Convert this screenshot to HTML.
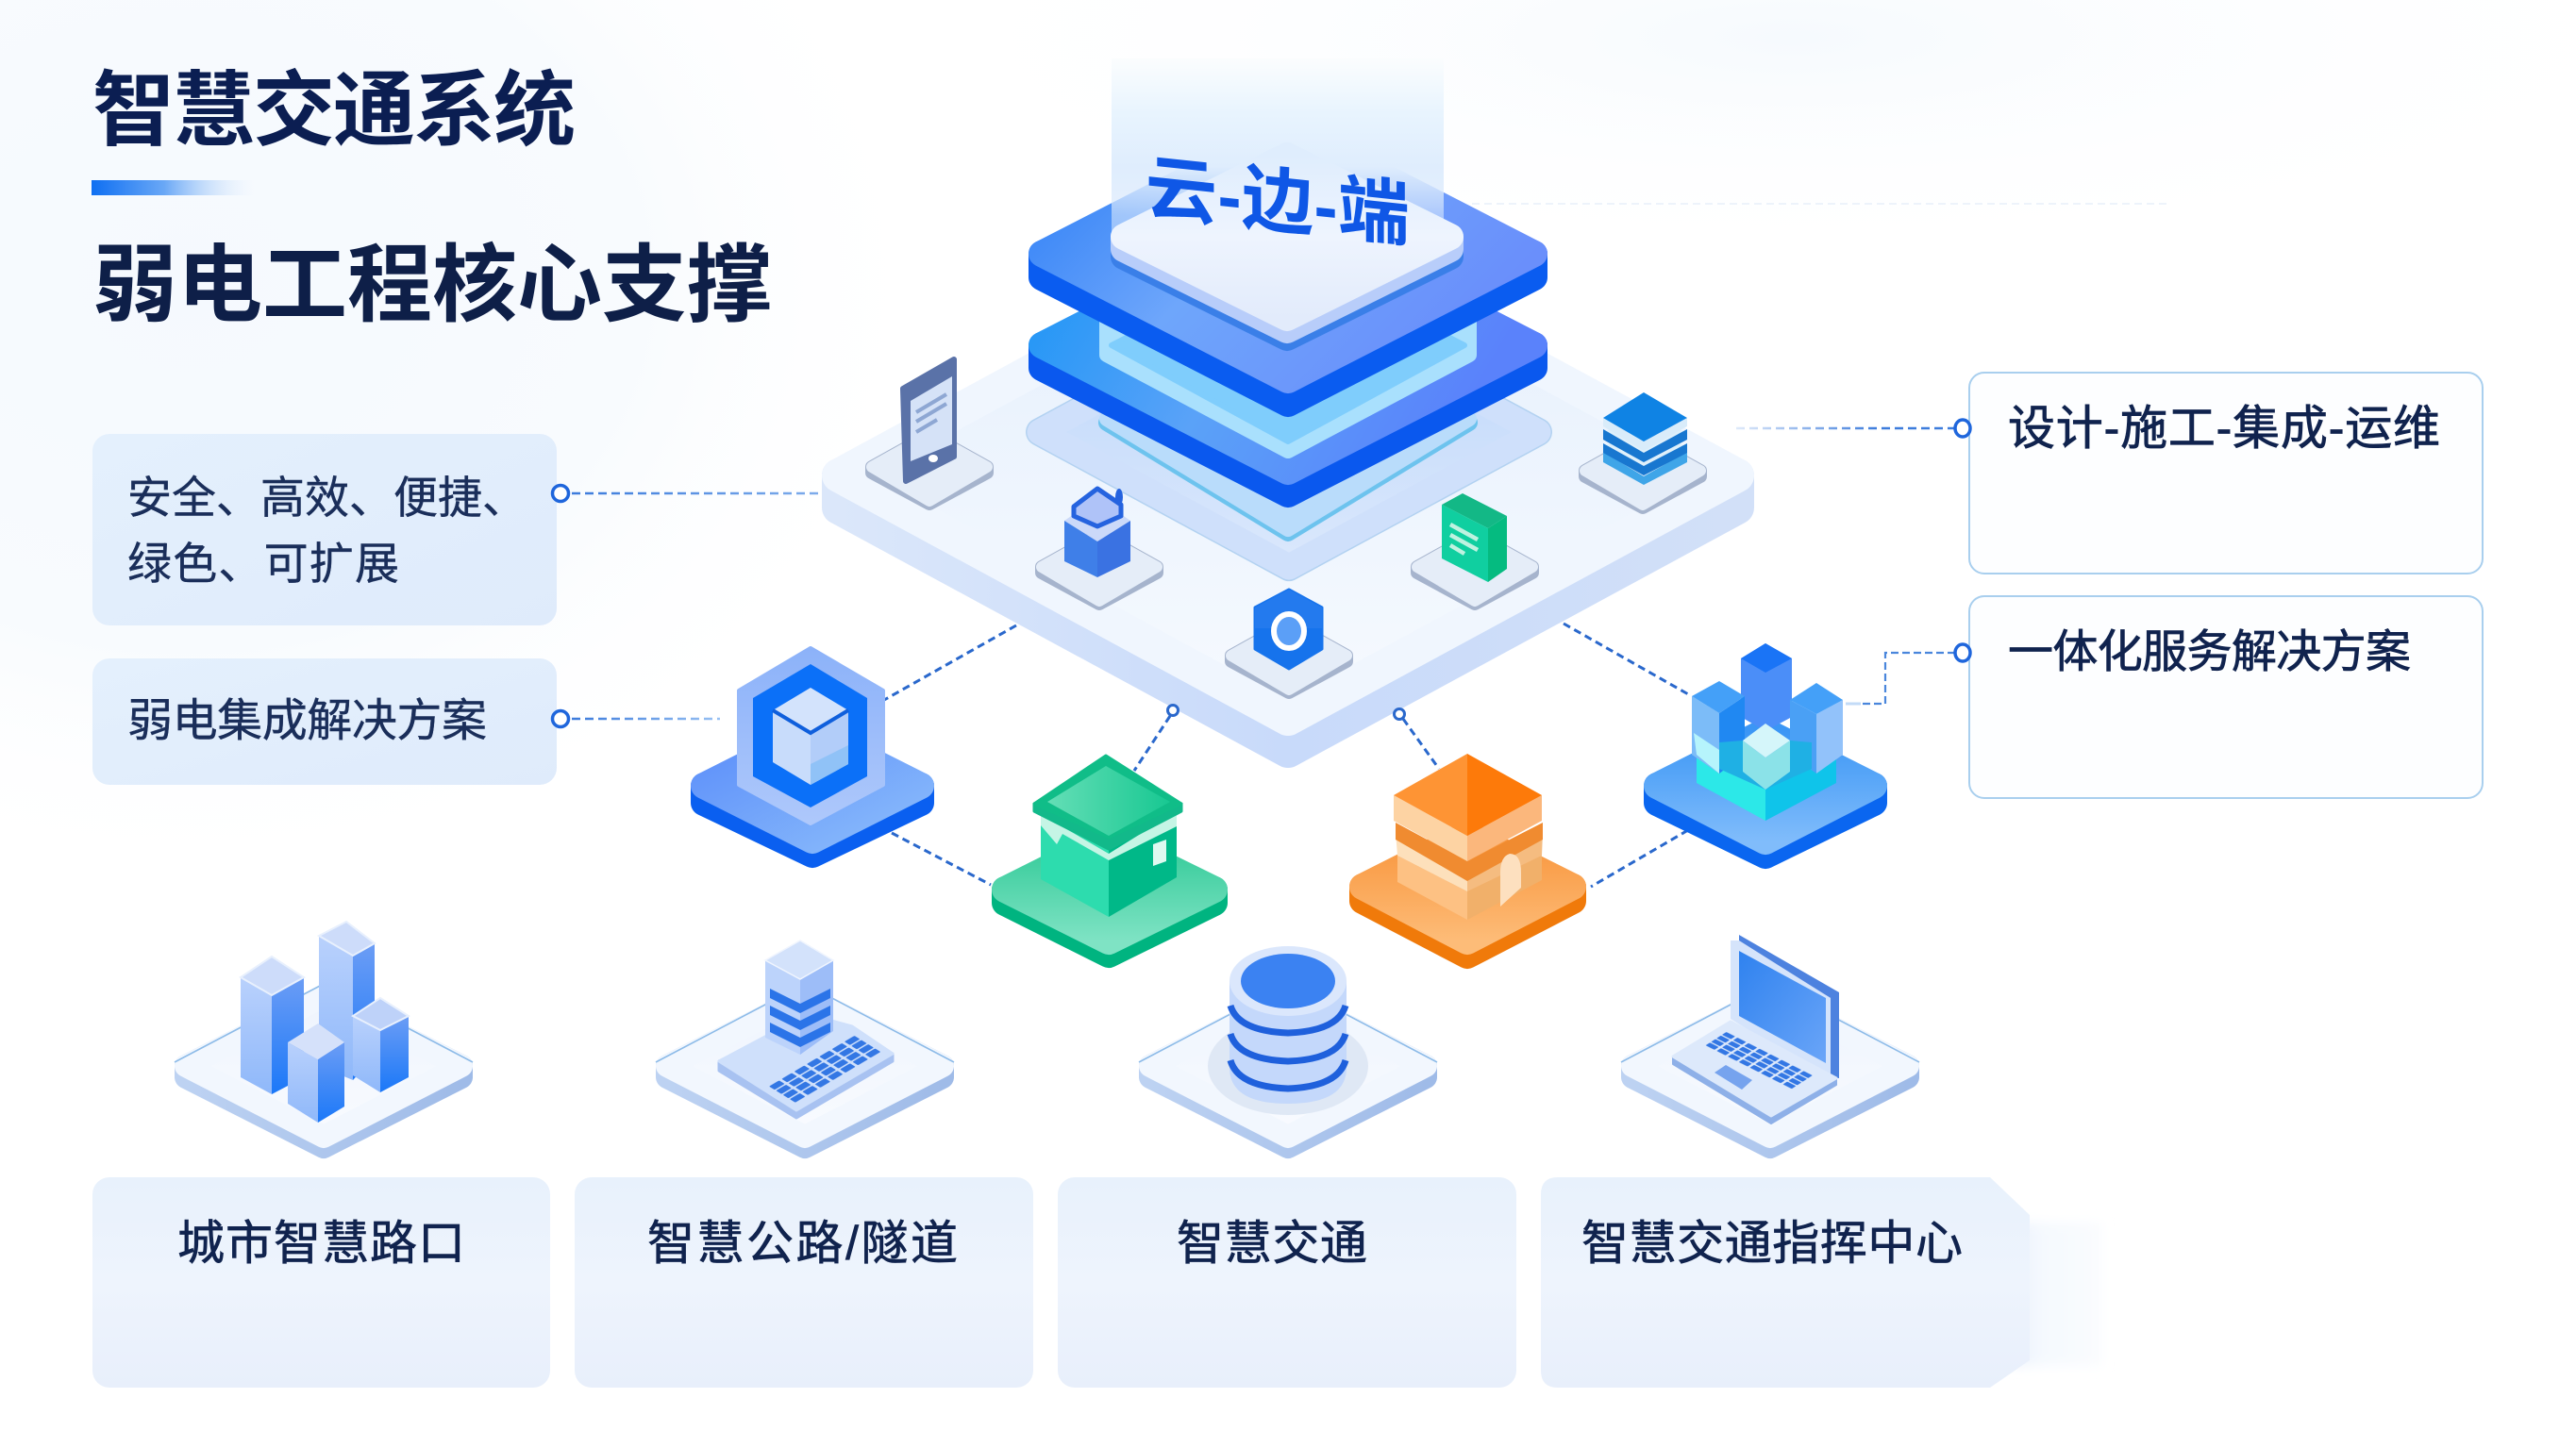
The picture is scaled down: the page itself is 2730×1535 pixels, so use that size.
<!DOCTYPE html>
<html lang="zh">
<head>
<meta charset="utf-8">
<title>智慧交通系统</title>
<style>
html,body{margin:0;padding:0;background:#fff;width:2730px;height:1535px;overflow:hidden}
svg{display:block}
text{font-family:"Liberation Sans","Noto Sans CJK SC",sans-serif}
</style>
</head>
<body>
<svg xmlns="http://www.w3.org/2000/svg" width="2730" height="1535" viewBox="0 0 2730 1535">
<defs>
<radialGradient id="bg1" cx="0.5" cy="0.5" r="0.5"><stop offset="0" stop-color="#f5f9fe"/><stop offset="0.6" stop-color="#f8fbfe"/><stop offset="1" stop-color="#fff" stop-opacity="0"/></radialGradient>
<radialGradient id="bg2" cx="0.5" cy="0.5" r="0.5"><stop offset="0" stop-color="#f6fafe"/><stop offset="1" stop-color="#fff" stop-opacity="0"/></radialGradient>
<filter id="soft" x="-20%" y="-20%" width="140%" height="140%"><feGaussianBlur stdDeviation="6"/></filter>
<linearGradient id="bar" x1="0" x2="1" y1="0" y2="0"><stop offset="0" stop-color="#0f6ff2"/><stop offset="0.45" stop-color="#6aa8f6"/><stop offset="1" stop-color="#dcebfc" stop-opacity="0"/></linearGradient>
<linearGradient id="card" x1="0" x2="1" y1="0" y2="1"><stop offset="0" stop-color="#e4f0fd"/><stop offset="1" stop-color="#dfebfb"/></linearGradient>
<linearGradient id="card2" x1="0" x2="0" y1="0" y2="1"><stop offset="0" stop-color="#e8f1fc"/><stop offset="0.5" stop-color="#eef4fd"/><stop offset="1" stop-color="#e8effb"/></linearGradient>
<linearGradient id="fade" x1="0" x2="1" y1="0" y2="0"><stop offset="0" stop-color="#eaf1fc"/><stop offset="0.35" stop-color="#f5f9fe"/><stop offset="1" stop-color="#fafcfe"/></linearGradient>
<linearGradient id="main" x1="0" x2="0" y1="0" y2="1"><stop offset="0" stop-color="#e5effc"/><stop offset="1" stop-color="#f6faff"/></linearGradient>
<linearGradient id="mainS" x1="0" x2="1" y1="0" y2="0"><stop offset="0" stop-color="#dbe7fa"/><stop offset="0.5" stop-color="#c8dafa"/><stop offset="1" stop-color="#d2e0f8"/></linearGradient>
<linearGradient id="glass" x1="0" x2="0" y1="0" y2="1"><stop offset="0" stop-color="#bcd6fa"/><stop offset="1" stop-color="#dbe8fc"/></linearGradient>
<linearGradient id="p1" x1="0" x2="1" y1="0" y2="0.5"><stop offset="0" stop-color="#2a7df6"/><stop offset="0.5" stop-color="#6ea6fb"/><stop offset="1" stop-color="#6a8ffb"/></linearGradient>
<linearGradient id="p2" x1="0" x2="1" y1="0" y2="0.3"><stop offset="0" stop-color="#1a95f6"/><stop offset="0.5" stop-color="#5aa2f8"/><stop offset="1" stop-color="#5a82fb"/></linearGradient>
<linearGradient id="beam" gradientUnits="userSpaceOnUse" x1="0" x2="0" y1="62" y2="270">
  <stop offset="0" stop-color="#fbfdfe"/><stop offset="0.28" stop-color="#e8f4fe"/><stop offset="0.55" stop-color="#dfedfd"/><stop offset="0.8" stop-color="#d8e8fc" stop-opacity="0.6"/><stop offset="1" stop-color="#d4e6fc" stop-opacity="0.5"/>
</linearGradient>
<linearGradient id="inner" x1="0" x2="0" y1="0" y2="1"><stop offset="0" stop-color="#dfedfd"/><stop offset="0.5" stop-color="#eef4fe"/><stop offset="1" stop-color="#e2ebfb"/></linearGradient>
<linearGradient id="pB" x1="0" x2="1" y1="0" y2="1"><stop offset="0" stop-color="#5a8dfa"/><stop offset="1" stop-color="#8bbcfb"/></linearGradient>
<linearGradient id="hexG" x1="0" x2="0" y1="0" y2="1"><stop offset="0" stop-color="#8cb2f9"/><stop offset="1" stop-color="#aec8fb"/></linearGradient>
<linearGradient id="pG" x1="0" x2="0" y1="0" y2="1"><stop offset="0" stop-color="#2fc996"/><stop offset="1" stop-color="#7fe3c4"/></linearGradient>
<linearGradient id="pO" x1="0" x2="0" y1="0" y2="1"><stop offset="0" stop-color="#f8943a"/><stop offset="1" stop-color="#fdbc78"/></linearGradient>
<linearGradient id="pC" x1="0" x2="0" y1="0" y2="1"><stop offset="0" stop-color="#3b96f5"/><stop offset="1" stop-color="#80bcfb"/></linearGradient>
<linearGradient id="roofG" x1="0" x2="1" y1="0" y2="0"><stop offset="0" stop-color="#64deb6"/><stop offset="1" stop-color="#18c892"/></linearGradient>
<linearGradient id="padT" x1="0" x2="0" y1="0" y2="1"><stop offset="0" stop-color="#eef4fd"/><stop offset="1" stop-color="#f9fbff"/></linearGradient>
<linearGradient id="padS" x1="0" x2="1" y1="0" y2="0"><stop offset="0" stop-color="#bdd2f2"/><stop offset="1" stop-color="#9fbbe8"/></linearGradient>
<linearGradient id="bL" x1="0" x2="0" y1="0" y2="1"><stop offset="0" stop-color="#b9d1fc"/><stop offset="1" stop-color="#8fb8fa"/></linearGradient>
<linearGradient id="bR" x1="0" x2="0" y1="0" y2="1"><stop offset="0" stop-color="#6c9df5"/><stop offset="1" stop-color="#1b78f8"/></linearGradient>
<linearGradient id="screen" x1="0" x2="1" y1="0" y2="1"><stop offset="0" stop-color="#2f82ef"/><stop offset="1" stop-color="#6aa5f8"/></linearGradient>
<linearGradient id="dashR" gradientUnits="userSpaceOnUse" x1="1840" x2="1990" y1="0" y2="0"><stop offset="0" stop-color="#dfeafa"/><stop offset="1" stop-color="#3d7cdc"/></linearGradient>
<linearGradient id="dashL" gradientUnits="userSpaceOnUse" x1="610" x2="770" y1="0" y2="0"><stop offset="0" stop-color="#3d7cdc"/><stop offset="1" stop-color="#9cc4f4"/></linearGradient>
<linearGradient id="dashL1" gradientUnits="userSpaceOnUse" x1="610" x2="870" y1="0" y2="0"><stop offset="0" stop-color="#3d7cdc"/><stop offset="1" stop-color="#7eaceb"/></linearGradient>
<pattern id="keys" width="10" height="10" patternUnits="userSpaceOnUse"><rect x="1" y="1" width="8" height="8" rx="1" fill="#3377e4"/></pattern>

<g id="miniPad">
  <polygon points="-61,6 0,39 61,6 61,0 0,-34 -61,0" fill="#a6b4cd" stroke="#a6b4cd" stroke-width="14" stroke-linejoin="round"/>
  <polygon points="-61,0 0,-34 61,0 0,36" fill="#e5edf8" stroke="#e5edf8" stroke-width="12" stroke-linejoin="round"/>
</g>
<g id="lowPad">
  <polygon points="-146,12 0,86 146,12 146,0 0,-74 -146,0" fill="url(#padS)" stroke="url(#padS)" stroke-width="24" stroke-linejoin="round"/>
  <polygon points="-146,0 0,-74 146,0 0,75" fill="url(#padT)" stroke="#f2f7fe" stroke-width="24" stroke-linejoin="round"/>
  <path d="M-158,-4 L-2,-86 M2,-86 L158,-4" stroke="#8dbbe8" stroke-width="1.6" fill="none"/>
</g>
</defs>

<!-- background -->
<rect width="2730" height="1535" fill="#fff"/>
<ellipse cx="200" cy="300" rx="800" ry="640" fill="url(#bg1)"/>
<ellipse cx="1900" cy="40" rx="1000" ry="240" fill="url(#bg2)"/>

<!-- title -->
<text x="98" y="147" font-size="87" font-weight="700" fill="#0b1e52" textLength="512" lengthAdjust="spacing">智慧交通系统</text>
<rect x="97" y="191" width="172" height="16" fill="url(#bar)"/>
<text x="98" y="333" font-size="90" font-weight="700" fill="#0e1f48" textLength="720" lengthAdjust="spacing">弱电工程核心支撑</text>

<!-- left cards -->
<rect x="98" y="460" width="492" height="203" rx="18" fill="url(#card)"/>
<text x="135" y="544" font-size="47" fill="#1a2e5a" stroke="#1a2e5a" stroke-width=".4" textLength="423" lengthAdjust="spacing">安全、高效、便捷、</text>
<text x="135" y="614" font-size="47" fill="#1a2e5a" stroke="#1a2e5a" stroke-width=".4" textLength="288" lengthAdjust="spacing">绿色、可扩展</text>
<rect x="98" y="698" width="492" height="134" rx="18" fill="url(#card)"/>
<text x="135" y="780" font-size="48" fill="#1a2e5a" stroke="#1a2e5a" stroke-width=".4" textLength="381" lengthAdjust="spacing">弱电集成解决方案</text>
<path d="M606,523 H870" stroke="url(#dashL1)" stroke-width="2.5" stroke-dasharray="9 5" fill="none"/>
<path d="M606,762 H763" stroke="url(#dashL)" stroke-width="2.5" stroke-dasharray="9 5" fill="none"/>
<circle cx="594" cy="523" r="8.5" fill="#fff" stroke="#1f66dc" stroke-width="3.5"/>
<circle cx="594" cy="762" r="8.5" fill="#fff" stroke="#1f66dc" stroke-width="3.5"/>

<!-- right cards -->
<rect x="2087" y="395" width="544" height="213" rx="16" fill="#fdfeff" stroke="#a9cfee" stroke-width="2"/>
<text x="2128" y="471" font-size="50" fill="#10234e" stroke="#10234e" stroke-width=".8" textLength="458" lengthAdjust="spacing">设计-施工-集成-运维</text>
<rect x="2087" y="632" width="544" height="214" rx="16" fill="#fdfeff" stroke="#a9cfee" stroke-width="2"/>
<text x="2128" y="707" font-size="48" fill="#10234e" stroke="#10234e" stroke-width=".8" textLength="427" lengthAdjust="spacing">一体化服务解决方案</text>
<path d="M1840,454 H2072" stroke="url(#dashR)" stroke-width="2.5" stroke-dasharray="9 5" fill="none"/>
<path d="M2072,692 H1998 V746 H1970" stroke="#4a86dc" stroke-width="2.2" stroke-dasharray="8 4" fill="none"/>
<path d="M1956,746 H1972" stroke="#c3dbf7" stroke-width="3" fill="none"/>
<ellipse cx="2080" cy="454" rx="8" ry="9" fill="#fff" stroke="#1f66dc" stroke-width="3.5"/>
<ellipse cx="2080" cy="692" rx="8" ry="9" fill="#fff" stroke="#1f66dc" stroke-width="3.5"/>
<path d="M1560,216 H2300" stroke="#edf3fb" stroke-width="2" stroke-dasharray="8 5" fill="none"/>

<!-- main platform -->
<polygon points="889,504 889,538 1365,796 1841,538 1841,504 1365,762" fill="url(#mainS)" stroke="url(#mainS)" stroke-width="36" stroke-linejoin="round"/>
<polygon points="889,504 1365,246 1841,504 1365,762" fill="url(#main)" stroke="#f0f6fe" stroke-width="36" stroke-linejoin="round"/>

<!-- glass layer -->
<polygon points="1102,458 1366,315 1630,458 1366,601" fill="#b3d2f1" stroke="#b3d2f1" stroke-width="30" stroke-linejoin="round"/>
<polygon points="1102,458 1366,315 1630,458 1366,601" fill="url(#glass)" stroke="#cfe0fb" stroke-width="27" stroke-linejoin="round"/>
<polygon points="1173,448 1365,331 1557,448 1365,565" fill="#6dc3ee" stroke="#6dc3ee" stroke-width="18" stroke-linejoin="round"/>
<polygon points="1173,444 1365,327 1557,444 1365,561" fill="#b9dcfb" stroke="#b9dcfb" stroke-width="16" stroke-linejoin="round"/>

<!-- plate 2 -->
<polygon points="1104,366 1104,390 1365,524 1626,390 1626,366 1365,500" fill="#0a58ee" stroke="#0a58ee" stroke-width="28" stroke-linejoin="round"/>
<polygon points="1104,366 1365,232 1626,366 1365,500" fill="url(#p2)" stroke="url(#p2)" stroke-width="28" stroke-linejoin="round"/>
<!-- mid prism -->
<polygon points="1173,320 1557,320 1557,376 1365,478 1173,376" fill="#a9e0fd" stroke="#a9e0fd" stroke-width="16" stroke-linejoin="round"/>
<polygon points="1178,366 1365,270 1552,366 1365,468" fill="#7fcdfc" stroke="#7fcdfc" stroke-width="6" stroke-linejoin="round"/>

<!-- plate 1 -->
<polygon points="1104,269 1104,294 1365,428 1626,294 1626,269 1365,403" fill="#0a5cf0" stroke="#0a5cf0" stroke-width="28" stroke-linejoin="round"/>
<polygon points="1104,269 1365,135 1626,269 1365,403" fill="url(#p1)" stroke="url(#p1)" stroke-width="28" stroke-linejoin="round"/>

<!-- beam -->
<rect x="1178" y="62" width="352" height="203" fill="url(#beam)"/>

<!-- inner plate -->
<polygon points="1191,251 1191,272 1364,358 1537,272 1537,251 1364,337" fill="#3a7fe8" stroke="#3a7fe8" stroke-width="28" stroke-linejoin="round"/>
<polygon points="1191,251 1191,264 1364,350 1537,264 1537,251 1364,337" fill="#b8cdfa" stroke="#b8cdfa" stroke-width="28" stroke-linejoin="round"/>
<polygon points="1191,251 1364,165 1537,251 1364,337" fill="url(#inner)" stroke="url(#inner)" stroke-width="28" stroke-linejoin="round"/>

<!-- cloud-edge text -->
<g transform="translate(1214,225) skewY(6)">
<text x="0" y="0" font-size="76" font-weight="700" fill="#0f57e6" textLength="280" lengthAdjust="spacing">云-边-端</text>
</g>

<!-- mini pads -->
<use href="#miniPad" x="985" y="495"/>
<use href="#miniPad" x="1165" y="601"/>
<use href="#miniPad" x="1563" y="601"/>
<use href="#miniPad" x="1366" y="695"/>
<use href="#miniPad" x="1741" y="499"/>

<!-- phone -->
<polygon points="957,412 1011,381 1011,484 960,510" fill="#5a72a8" stroke="#5a72a8" stroke-width="6" stroke-linejoin="round"/>
<polygon points="965,425 1009,399 1009,471 965,489" fill="#d5e2f7"/>
<path d="M971,437 L1003,418 M971,447 L1003,428 M971,458 L993,445" stroke="#8ea7d3" stroke-width="4"/>
<ellipse cx="989" cy="486" rx="5" ry="4" fill="#fff"/>

<!-- blue box -->
<polygon points="1128,552 1163,528 1198,552 1163,574" fill="#cbd9f9"/>
<polygon points="1128,552 1163,574 1163,612 1128,595" fill="#3f7fe8"/>
<polygon points="1198,552 1163,574 1163,612 1198,595" fill="#3a72e2"/>
<polygon points="1163,518 1188,535 1188,547 1163,558 1138,547 1138,537" fill="#afc3f8" stroke="#2563df" stroke-width="5" stroke-linejoin="round"/>
<ellipse cx="1186" cy="527" rx="4" ry="9" fill="#2563df"/>

<!-- green book -->
<polygon points="1550,523 1528,535 1577,560 1597,547" fill="#13b886"/>
<polygon points="1528,535 1577,560 1577,617 1528,592" fill="#10cfa0"/>
<polygon points="1597,547 1577,560 1577,617 1597,603" fill="#05bb80"/>
<path d="M1537,556 L1566,572 M1537,567 L1566,583 M1537,578 L1552,587" stroke="#bff2e0" stroke-width="4.5"/>

<!-- hex shield -->
<polygon points="1366,625 1401,644 1401,688 1366,709 1330,688 1330,644" fill="#1673ec" stroke="#1673ec" stroke-width="3" stroke-linejoin="round"/>
<polygon points="1366,625 1401,644 1401,666 1330,666 1330,644" fill="#2a7ef0" opacity=".7"/>
<ellipse cx="1366" cy="669" rx="16" ry="18" fill="#5b9ff7" stroke="#fff" stroke-width="6"/>

<!-- stack -->
<polygon points="1699,479 1742,505 1788,479 1788,490 1742,514 1699,490" fill="#3fa5e8"/>
<polygon points="1699,474 1742,498 1788,474 1742,450" fill="#dff0fb"/>
<polygon points="1699,470 1742,494 1788,470 1788,480 1742,504 1699,480" fill="#1877d0"/>
<polygon points="1699,459 1742,483 1788,459 1742,436" fill="#dff0fb"/>
<polygon points="1699,455 1742,480 1788,455 1788,466 1742,490 1699,466" fill="#1877d0"/>
<polygon points="1699,443 1742,468 1788,443 1788,452 1742,478 1699,452" fill="#d9ecfa"/>
<polygon points="1699,443 1742,416 1788,443 1742,468" fill="#0f83e4"/>

<!-- connectors to modules -->
<g stroke="#2a68cc" stroke-width="3" stroke-dasharray="8 5" fill="none">
<path d="M1077,663 L937,742"/>
<path d="M945,883 L1050,938"/>
<path d="M1240,759 L1202,817"/>
<path d="M1487,762 L1525,815"/>
<path d="M1657,661 L1791,737"/>
<path d="M1789,880 L1686,940"/>
</g>
<circle cx="1243" cy="753" r="5.5" fill="#fff" stroke="#2a68cc" stroke-width="3"/>
<circle cx="1483" cy="757" r="5.5" fill="#fff" stroke="#2a68cc" stroke-width="3"/>

<!-- blue hex module -->
<polygon points="746,833 746,851 861,906 976,851 976,833 861,891" fill="#0a5ff0" stroke="#0a5ff0" stroke-width="28" stroke-linejoin="round" />
<polygon points="746,833 861,775 976,833 861,891" fill="url(#pB)" stroke="url(#pB)" stroke-width="28" stroke-linejoin="round"/>
<polygon points="859,687 936,732 936,832 859,873 783,832 783,732" fill="url(#hexG)" stroke="url(#hexG)" stroke-width="4" stroke-linejoin="round"/>
<polygon points="859,704 919,740 919,823 859,856 798,823 798,740" fill="#0b70f8"/>
<polygon points="859,729 899,753 859,775 819,753" fill="#d3e3fc"/>
<polygon points="819,753 859,778 859,832 819,808" fill="#c8dcfb"/>
<polygon points="899,753 859,778 859,832 899,810" fill="#b2cdf9"/>
<polygon points="859,810 899,790 899,810 859,832" fill="#90c2f7"/>
<path d="M819,753 L859,777 L899,753" stroke="#0f5fdc" stroke-width="4" fill="none"/>

<!-- green module -->
<polygon points="1065,943 1065,957 1175,1012 1287,957 1287,943 1175,998" fill="#00b480" stroke="#00b480" stroke-width="28" stroke-linejoin="round"/>
<polygon points="1065,943 1175,888 1287,943 1175,998" fill="url(#pG)" stroke="url(#pG)" stroke-width="28" stroke-linejoin="round"/>
<polygon points="1103,863 1175,900 1175,972 1103,932" fill="#2ddcae"/>
<polygon points="1247,863 1175,900 1175,972 1247,930" fill="#00b888"/>
<polygon points="1103,863 1175,905 1247,860 1247,876 1175,912 1126,884 1120,895 1103,875" fill="#c5f5e5"/>
<polygon points="1096,852 1096,860 1175,900 1252,860 1252,852 1175,888" fill="#12b98a" stroke="#12b98a" stroke-width="3" stroke-linejoin="round"/>
<polygon points="1172,801 1252,852 1175,888 1096,852" fill="#10bd88" stroke="#10bd88" stroke-width="3" stroke-linejoin="round"/>
<polygon points="1172,812 1240,850 1175,886 1110,850" fill="url(#roofG)"/>
<polygon points="1222,895 1236,890 1236,913 1222,918" fill="#dff9f0"/>

<!-- orange module -->
<polygon points="1444,940 1444,955 1555,1013 1667,955 1667,940 1555,998" fill="#f07a0a" stroke="#f07a0a" stroke-width="28" stroke-linejoin="round"/>
<polygon points="1444,940 1555,884 1667,940 1555,998" fill="url(#pO)" stroke="url(#pO)" stroke-width="28" stroke-linejoin="round"/>
<polygon points="1481,907 1555,945 1555,975 1481,935" fill="#fdc183"/>
<polygon points="1634,907 1555,945 1555,975 1634,933" fill="#f1b06a"/>
<polygon points="1479,882 1555,928 1555,945 1481,907" fill="#fde0bb"/>
<polygon points="1635,882 1555,928 1555,945 1634,907" fill="#f5bc80"/>
<polygon points="1479,872 1555,913 1635,872 1635,890 1555,934 1479,890" fill="#f08b30"/>
<polygon points="1477,843 1555,886 1555,913 1477,870" fill="#fdd3a3"/>
<polygon points="1634,843 1555,886 1555,913 1634,870" fill="#fbb77c"/>
<polygon points="1555,799 1634,843 1555,886" fill="#fd7a0a"/>
<polygon points="1555,799 1477,843 1555,886" fill="#fe9434"/>
<path d="M1590,961 V925 Q1590,908 1600,905 Q1612,905 1612,925 V941 Z" fill="#fde0bf"/>

<!-- cyan module -->
<polygon points="1756,833 1756,851 1871,907 1986,851 1986,833 1871,892" fill="#0a66f0" stroke="#0a66f0" stroke-width="28" stroke-linejoin="round"/>
<polygon points="1756,833 1871,775 1986,833 1871,892" fill="url(#pC)" stroke="url(#pC)" stroke-width="28" stroke-linejoin="round"/>
<polygon points="1798,798 1871,837 1871,870 1798,830" fill="#2ce8e8"/>
<polygon points="1946,798 1871,837 1871,870 1946,830" fill="#0fc4ea"/>
<polygon points="1871,682 1899,698 1899,760 1871,775 1845,760 1845,698" fill="#4b8ef8"/>
<polygon points="1871,682 1899,698 1871,713 1845,698" fill="#1a74f6"/>
<polygon points="1793,738 1822,756 1822,820 1793,800" fill="#7cbcf8"/>
<polygon points="1849,738 1822,756 1822,820 1849,800" fill="#2088f2"/>
<polygon points="1822,722 1849,738 1822,756 1793,738" fill="#44a0f8"/>
<polygon points="1897,742 1925,757 1925,820 1897,800" fill="#4aa0f5"/>
<polygon points="1953,742 1925,757 1925,820 1953,800" fill="#92c2fa"/>
<polygon points="1925,724 1953,742 1925,757 1897,742" fill="#44a0f8"/>
<polygon points="1795,777 1822,795 1822,820 1798,800" fill="#b6f4fc"/>
<polygon points="1822,787 1847,785 1871,837 1822,815" fill="#1fb0e4"/>
<polygon points="1920,787 1897,785 1871,837 1920,815" fill="#1fb0e4"/>
<polygon points="1847,785 1871,803 1871,837 1847,818" fill="#8be2e8"/>
<polygon points="1897,785 1871,803 1871,837 1897,818" fill="#8be2e8"/>
<polygon points="1871,767 1897,785 1871,803 1847,785" fill="#d5f6fa"/>

<!-- low pads -->
<use href="#lowPad" x="343" y="1130"/>
<use href="#lowPad" x="853" y="1130"/>
<use href="#lowPad" x="1365" y="1130"/>
<use href="#lowPad" x="1876" y="1130"/>

<!-- city buildings -->
<polygon points="338,992 374,1013 374,1145 338,1130" fill="url(#bL)"/>
<polygon points="397,1000 374,1013 374,1145 397,1120" fill="url(#bR)"/>
<polygon points="367,977 397,1000 374,1013 338,992" fill="#cddcfa" stroke="#e8f0fd" stroke-width="2"/>
<polygon points="255,1036 288,1055 288,1160 255,1142" fill="url(#bL)"/>
<polygon points="322,1036 288,1055 288,1160 322,1142" fill="url(#bR)"/>
<polygon points="288,1014 322,1036 288,1055 255,1036" fill="#cddcfa" stroke="#e8f0fd" stroke-width="2"/>
<polygon points="374,1077 403,1092 403,1158 374,1140" fill="url(#bL)"/>
<polygon points="433,1077 403,1092 403,1158 433,1142" fill="url(#bR)"/>
<polygon points="403,1058 433,1077 403,1092 374,1077" fill="#bed2f9" stroke="#e8f0fd" stroke-width="2"/>
<polygon points="305,1105 337,1123 337,1190 305,1170" fill="url(#bL)"/>
<polygon points="365,1105 337,1123 337,1190 365,1173" fill="url(#bR)"/>
<polygon points="337,1085 365,1105 337,1123 305,1105" fill="#d5e1fa"/>

<!-- server + keyboard -->
<polygon points="762,1125 762,1135 844,1185 946,1125 946,1117 844,1177" fill="#a8c2f1" stroke="#a8c2f1" stroke-width="3" stroke-linejoin="round"/>
<polygon points="762,1125 856,1075 903,1088 946,1117 844,1177" fill="#cfe0fb" stroke="#cfe0fb" stroke-width="3" stroke-linejoin="round"/>
<rect x="0" y="0" width="70" height="40" fill="url(#keys)" transform="matrix(1.33,-.79,.73,.45,813,1152)"/>
<polygon points="811,1018 848,1038 848,1118 811,1100" fill="#bcd3fb"/>
<polygon points="883,1018 848,1038 848,1118 883,1093" fill="#9dbdf8"/>
<polygon points="848,997 883,1018 848,1038 811,1018" fill="#d3e2fb" stroke="#f0f5fe" stroke-width="1.5"/>
<g fill="#2b74e8">
<polygon points="816,1048 848,1064 848,1074 816,1058"/><polygon points="880,1048 848,1064 848,1074 880,1058"/>
<polygon points="816,1066 848,1082 848,1092 816,1076"/><polygon points="880,1066 848,1082 848,1092 880,1076"/>
<polygon points="816,1084 848,1100 848,1110 816,1094"/><polygon points="880,1084 848,1100 848,1110 880,1094"/>
</g>

<!-- database -->
<ellipse cx="1365" cy="1130" rx="85" ry="52" fill="#dfe8f5"/>
<path d="M1303,1040 V1134 Q1305,1170 1365,1170 Q1425,1170 1427,1134 V1040 Z" fill="#c4d8fb"/>
<g fill="none" stroke="#1f60dc" stroke-width="7">
<path d="M1304,1066 Q1312,1093 1365,1095 Q1418,1093 1426,1066"/>
<path d="M1304,1096 Q1312,1123 1365,1125 Q1418,1123 1426,1096"/>
<path d="M1304,1124 Q1312,1152 1365,1154 Q1418,1152 1426,1124"/>
</g>
<ellipse cx="1365" cy="1040" rx="62" ry="37" fill="#dbe7fc"/>
<ellipse cx="1365" cy="1040" rx="50" ry="29" fill="#3b82f2"/>

<!-- laptop -->
<polygon points="1773,1120 1773,1128 1877,1191 1946,1150 1946,1143 1877,1183" fill="#8eb0e8" stroke="#8eb0e8" stroke-width="2" stroke-linejoin="round"/>
<polygon points="1843,991 1949,1052 1949,1143 1940,1143 1940,1058 1843,1000" fill="#4d82df"/>
<polygon points="1834,997 1843,997 1940,1058 1940,1146 1834,1080" fill="#d5e4fb"/>
<polygon points="1843,1008 1935,1058 1935,1127 1843,1077" fill="url(#screen)"/>
<polygon points="1773,1120 1834,1083 1946,1143 1877,1183" fill="#dde9fb" stroke="#dde9fb" stroke-width="3" stroke-linejoin="round"/>
<rect x="0" y="0" width="80" height="40" fill="url(#keys)" transform="matrix(1.17,.59,-.58,.375,1829,1093)"/>
<polygon points="1817,1137 1829,1129 1857,1145 1846,1155" fill="#76a3ee"/>

<!-- bottom cards -->
<rect x="98" y="1248" width="485" height="223" rx="18" fill="url(#card2)"/>
<text x="188" y="1335" font-size="50" fill="#10234e" stroke="#10234e" stroke-width=".7" textLength="305" lengthAdjust="spacing">城市智慧路口</text>
<rect x="609" y="1248" width="486" height="223" rx="18" fill="url(#card2)"/>
<text x="686" y="1335" font-size="50" fill="#10234e" stroke="#10234e" stroke-width=".7" textLength="329" lengthAdjust="spacing">智慧公路/隧道</text>
<rect x="1121" y="1248" width="486" height="223" rx="18" fill="url(#card2)"/>
<text x="1247" y="1335" font-size="50" fill="#10234e" stroke="#10234e" stroke-width=".7" textLength="202" lengthAdjust="spacing">智慧交通</text>
<rect x="2130" y="1296" width="98" height="152" fill="url(#fade)" filter="url(#soft)"/>
<path d="M1651,1248 H2109 L2151,1288 V1442 L2109,1471 H1651 Q1633,1471 1633,1453 V1266 Q1633,1248 1651,1248 Z" fill="url(#card2)"/>
<text x="1676" y="1335" font-size="50" fill="#10234e" stroke="#10234e" stroke-width=".7" textLength="404" lengthAdjust="spacing">智慧交通指挥中心</text>
</svg>
</body>
</html>
